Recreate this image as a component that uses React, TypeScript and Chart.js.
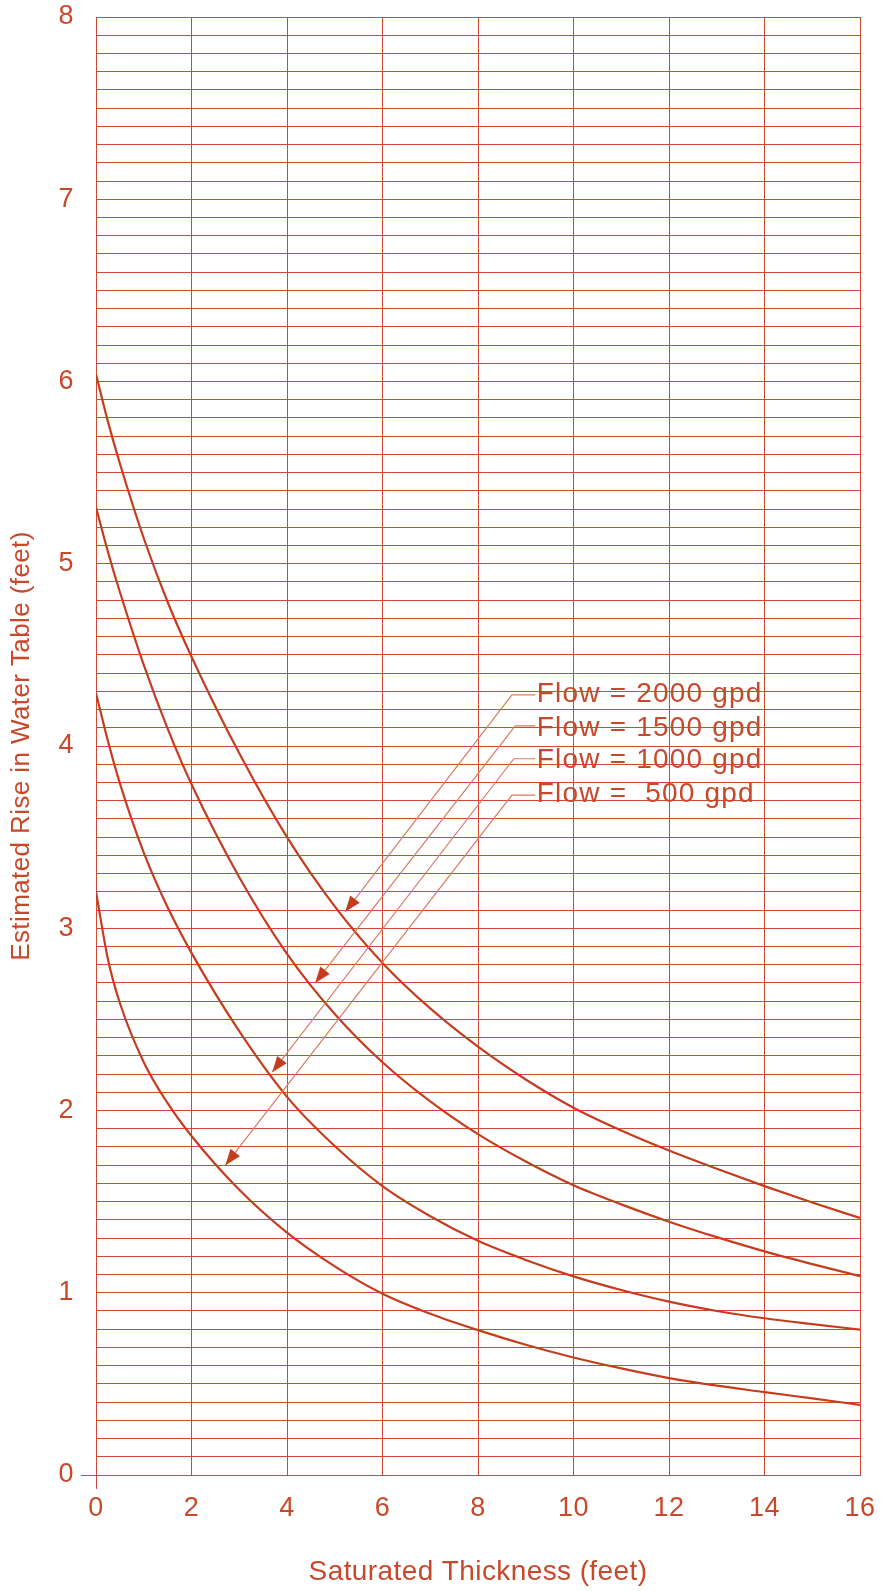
import React, { useEffect, useRef } from 'react';
import { Chart, registerables } from 'chart.js';

Chart.register(...registerables);

// Saturated thickness (feet)
const thickness = [0, 0.25, 0.5, 1, 1.5, 2, 3, 4, 5, 6, 7, 8, 9, 10, 11, 12, 13, 14, 15, 16];
// Estimated rise in water table (feet) per flow
const rise2000 = [6.04, 5.78, 5.55, 5.14, 4.79, 4.49, 3.96, 3.5, 3.12, 2.81, 2.56, 2.35, 2.17, 2.015, 1.89, 1.78, 1.68, 1.585, 1.495, 1.41];
const rise1500 = [5.31, 5.065, 4.845, 4.445, 4.095, 3.79, 3.28, 2.86, 2.53, 2.265, 2.05, 1.87, 1.72, 1.59, 1.485, 1.39, 1.305, 1.227, 1.157, 1.091];
const rise1000 = [4.29, 4.027, 3.795, 3.415, 3.115, 2.865, 2.435, 2.075, 1.805, 1.585, 1.42, 1.285, 1.18, 1.09, 1.015, 0.951, 0.9, 0.86, 0.828, 0.798];
const rise500 = [3.2, 2.83, 2.59, 2.265, 2.04, 1.86, 1.565, 1.33, 1.145, 0.995, 0.885, 0.795, 0.715, 0.645, 0.585, 0.532, 0.49, 0.455, 0.42, 0.385];

// Flow labels with leader arrows (data coordinates)
const flowLabels = ['Flow = 2000 gpd', 'Flow = 1500 gpd', 'Flow = 1000 gpd', 'Flow =  500 gpd'];
const labelX = 9.23;
const labelBaseY = [4.239, 4.056, 3.877, 3.695];
const leaderEndX = 9.2;
const leaderCornerX = [8.71, 8.78, 8.75, 8.71];
const leaderCornerY = [4.28, 4.11, 3.93, 3.73];
const arrowTipX = [5.22, 4.59, 3.69, 2.71];
const arrowTipY = [3.09, 2.7, 2.21, 1.7];

const xTitle = 'Saturated Thickness (feet)';
const yTitle = 'Estimated Rise in Water Table (feet)';

const FONT = '"Liberation Sans", Arial, Helvetica, sans-serif';
const CURVE = '#c63c1e';
const TEXT = '#c8482a';
const GRID = '#cf4a30';
const LEADER = '#d97a62';

const flowPlugin = {
  id: 'flowLabels',
  beforeDraw(chart: any) {
    chart.ctx.letterSpacing = '0.4px';
  },
  afterDatasetsDraw(chart: any) {
    const { ctx } = chart;
    const xs = chart.scales.x;
    const ys = chart.scales.y;
    ctx.save();
    for (let i = 0; i < flowLabels.length; i++) {
      const cx = xs.getPixelForValue(leaderCornerX[i]);
      const cy = ys.getPixelForValue(leaderCornerY[i]);
      const ex = xs.getPixelForValue(leaderEndX);
      const tx = xs.getPixelForValue(arrowTipX[i]);
      const ty = ys.getPixelForValue(arrowTipY[i]);
      ctx.strokeStyle = LEADER;
      ctx.lineWidth = 1.2;
      ctx.beginPath();
      ctx.moveTo(ex, cy);
      ctx.lineTo(cx, cy);
      ctx.lineTo(tx, ty);
      ctx.stroke();
      const ang = Math.atan2(ty - cy, tx - cx);
      const L = 16;
      const W = 6;
      const bx = tx - L * Math.cos(ang);
      const by = ty - L * Math.sin(ang);
      const nx = -Math.sin(ang);
      const ny = Math.cos(ang);
      ctx.fillStyle = CURVE;
      ctx.beginPath();
      ctx.moveTo(tx, ty);
      ctx.lineTo(bx + W * nx, by + W * ny);
      ctx.lineTo(bx - W * nx, by - W * ny);
      ctx.closePath();
      ctx.fill();
      ctx.font = `28px ${FONT}`;
      ctx.letterSpacing = '1.2px';
      ctx.fillStyle = TEXT;
      ctx.textAlign = 'left';
      ctx.textBaseline = 'alphabetic';
      ctx.fillText(flowLabels[i], xs.getPixelForValue(labelX), ys.getPixelForValue(labelBaseY[i]));
    }
    ctx.restore();
  },
};

function toPoints(ys: number[]) {
  return thickness.map((x, i) => ({ x, y: ys[i] }));
}

export default function App() {
  const ref = useRef<HTMLCanvasElement | null>(null);
  useEffect(() => {
    if (!ref.current) return;
    const mk = (data: number[], label: string) => ({
      label,
      data: toPoints(data),
      borderColor: CURVE,
      borderWidth: 2.2,
      pointRadius: 0,
      fill: false,
      cubicInterpolationMode: 'monotone' as const,
    });
    const chart = new Chart(ref.current, {
      type: 'line',
      data: {
        datasets: [
          mk(rise2000, 'Flow = 2000 gpd'),
          mk(rise1500, 'Flow = 1500 gpd'),
          mk(rise1000, 'Flow = 1000 gpd'),
          mk(rise500, 'Flow = 500 gpd'),
        ],
      },
      options: {
        animation: false,
        responsive: true,
        maintainAspectRatio: false,
        layout: { padding: { top: 17, right: 22, left: 0, bottom: 0 } },
        plugins: { legend: { display: false }, tooltip: { enabled: false } },
        scales: {
          x: {
            type: 'linear',
            min: 0,
            max: 16,
            ticks: { stepSize: 2, color: TEXT, font: { size: 27, family: FONT }, padding: 3 },
            grid: {
              color: GRID,
              lineWidth: 1,
              tickLength: 14,
              tickColor: (c: any) => (c.tick && c.tick.value === 0 ? GRID : 'rgba(0,0,0,0)'),
            },
            border: { color: GRID, width: 1 },
            title: {
              display: true,
              text: xTitle,
              color: TEXT,
              font: { size: 28, family: FONT },
              padding: { top: 0, bottom: 2 },
            },
            afterFit: (s: any) => {
              s.height = 116;
              s.paddingLeft = 0;
              s.paddingRight = 0;
            },
          },
          y: {
            type: 'linear',
            min: 0,
            max: 8,
            ticks: {
              stepSize: 0.1,
              autoSkip: false,
              color: TEXT,
              font: { size: 27, family: FONT },
              padding: 7,
              callback: (v: any) => {
                const n = Number(v);
                return Math.abs(n - Math.round(n)) < 1e-6 ? String(Math.round(n)) : '';
              },
            },
            grid: {
              color: GRID,
              lineWidth: 1,
              tickLength: 15,
              tickColor: (c: any) => (c.tick && Math.abs(c.tick.value) < 1e-9 ? GRID : 'rgba(0,0,0,0)'),
            },
            border: { color: GRID, width: 1 },
            title: {
              display: true,
              text: yTitle,
              color: TEXT,
              font: { size: 26, family: FONT },
              padding: { top: 6, bottom: 0 },
            },
            afterFit: (s: any) => {
              s.width = 96;
              s.paddingTop = 0;
              s.paddingBottom = 0;
            },
          },
        },
      },
      plugins: [flowPlugin],
    });
    return () => chart.destroy();
  }, []);
  return (
    <div style={{ position: 'fixed', left: 0, top: 0, width: 882, height: 1591, background: '#fff' }}>
      <canvas ref={ref} />
    </div>
  );
}
